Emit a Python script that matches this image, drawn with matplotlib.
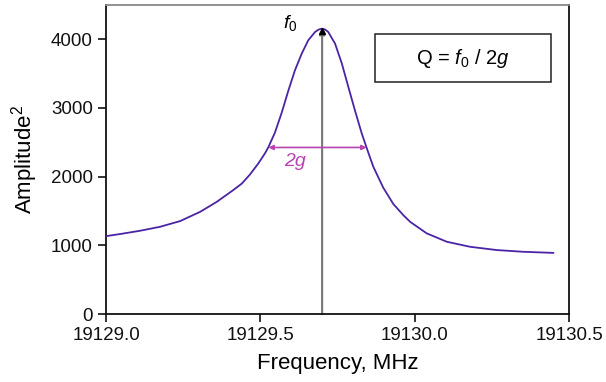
import matplotlib
matplotlib.use("Agg")
import matplotlib.pyplot as plt
from matplotlib.patches import Rectangle
from matplotlib.ticker import FormatStrFormatter

plt.rcParams['font.family'] = ['Liberation Sans', 'DejaVu Sans']
plt.rcParams['mathtext.fontset'] = 'custom'
plt.rcParams['mathtext.rm'] = 'Liberation Sans'
plt.rcParams['mathtext.it'] = 'Liberation Sans:italic'

# resonance curve (MHz, amplitude^2)
freq = [19129.000, 19129.045, 19129.110, 19129.175, 19129.240, 19129.305,
        19129.359, 19129.412, 19129.440, 19129.466, 19129.493, 19129.515,
        19129.526, 19129.547, 19129.569, 19129.591, 19129.612, 19129.634,
        19129.655, 19129.677, 19129.688, 19129.699, 19129.710, 19129.720,
        19129.742, 19129.764, 19129.785, 19129.807, 19129.828, 19129.845,
        19129.866, 19129.898, 19129.931, 19129.963, 19129.985, 19130.039,
        19130.104, 19130.179, 19130.266, 19130.352, 19130.449]
amp = [1134, 1164, 1212, 1270, 1353, 1488,
       1634, 1804, 1900, 2030, 2190, 2340,
       2430, 2640, 2930, 3258, 3549, 3792,
       3985, 4106, 4140, 4155, 4142, 4106,
       3937, 3646, 3306, 2955, 2635, 2410,
       2143, 1840, 1600, 1440, 1343, 1174,
       1052, 979, 931, 906, 890]

f0 = 19129.70
f0_amp = 4155
half_amp = 2425
half_left = 19129.526
half_right = 19129.844

xticks = [19129.0, 19129.5, 19130.0, 19130.5]
yticks = [0, 1000, 2000, 3000, 4000]

fig = plt.figure(figsize=(6.06, 3.82), dpi=100)
ax = fig.add_axes([0.175, 0.178, 0.764, 0.809])

ax.plot(freq, amp, color='#4B24A6', lw=1.3, zorder=3)

# f0 marker
ax.annotate('', xy=(f0, f0_amp), xytext=(f0, 0),
            arrowprops=dict(arrowstyle='-|>', color='#777777', lw=1.5,
                            mutation_scale=8, shrinkA=0, shrinkB=0), zorder=2)
ax.plot([f0], [f0_amp - 40], marker='^', color='black', ms=4, zorder=4)
ax.text(19129.596, 4233, r'$f_{\mathrm{0}}$', fontsize=14, ha='center', va='center')

# half width
ax.annotate('', xy=(half_left, half_amp), xytext=(half_right, half_amp),
            arrowprops=dict(arrowstyle='<|-|>', color='#B844B0', lw=1.2,
                            mutation_scale=7, shrinkA=0, shrinkB=0), zorder=4)
ax.text(19129.612, 2215, '2g', color='#B844B0', fontsize=14, style='italic',
        ha='center', va='center')

# Q box
ax.add_patch(Rectangle((0.581, 0.751), 0.380, 0.155, transform=ax.transAxes,
                       fc='white', ec='#222222', lw=1.1, zorder=5))
ax.text(0.771, 0.828, r'Q = $f_{\mathrm{0}}$ / 2$g$', transform=ax.transAxes,
        fontsize=14.5, ha='center', va='center', zorder=6)

ax.set_xlim(19129.0, 19130.5)
ax.set_ylim(0, 4500)
ax.set_xticks(xticks)
ax.set_yticks(yticks)
ax.xaxis.set_major_formatter(FormatStrFormatter('%.1f'))
ax.tick_params(direction='out', length=6, width=1.2, labelsize=13.5, colors='#111111')

for side in ['left', 'bottom', 'right']:
    ax.spines[side].set_linewidth(1.3)
    ax.spines[side].set_color('#111111')
ax.spines['top'].set_color('#888888')
ax.spines['top'].set_linewidth(1.3)

ax.set_xlabel('Frequency, MHz', fontsize=16, labelpad=6)
ax.set_ylabel(r'Amplitude$^{\mathrm{2}}$', fontsize=16, labelpad=8)

fig.savefig('out.png', dpi=100)
